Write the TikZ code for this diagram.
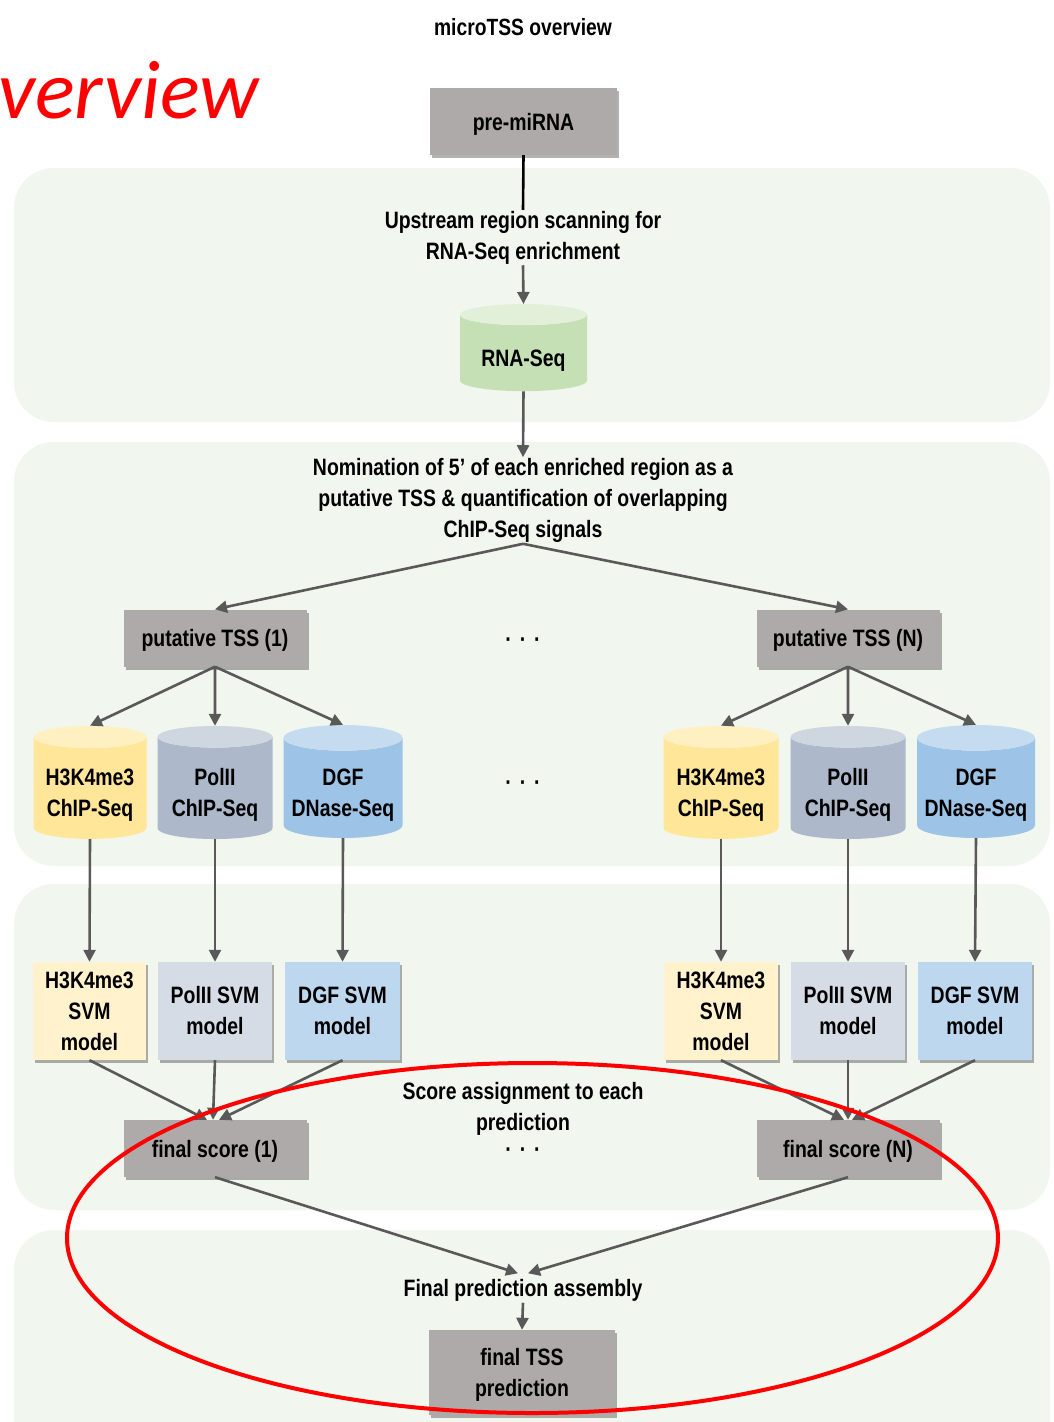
\documentclass[tikz,border=0pt]{standalone}
\usepackage{fontspec}
\setmainfont{Liberation Sans}[FakeStretch=0.82]
\newfontfamily\handfont{Carlito}
\usetikzlibrary{shapes.geometric,shadows,arrows.meta}

\definecolor{panelgreen}{HTML}{F1F6EE}
\definecolor{boxgray}{HTML}{AEAAAA}
\definecolor{linegray}{HTML}{595959}
\definecolor{rnabody}{HTML}{C5E0B4}
\definecolor{rnaend}{HTML}{E2F0D9}
\definecolor{h3body}{HTML}{FFE699}
\definecolor{h3end}{HTML}{FFF0C2}
\definecolor{polbody}{HTML}{ADB9CA}
\definecolor{polend}{HTML}{CED6E0}
\definecolor{dgfbody}{HTML}{9DC3E6}
\definecolor{dgfend}{HTML}{C5DCF0}
\definecolor{h3svm}{HTML}{FFF2CC}
\definecolor{polsvm}{HTML}{D6DCE5}
\definecolor{dgfsvm}{HTML}{BDD7EE}

% lowered centred stack of lines, keeping the outer box size
\newcommand\sinktext[2]{\raisebox{-#1}[\height][\depth]{\begin{tabular}{@{}c@{}}#2\end{tabular}}}

\tikzset{
  txt/.style={font=\bfseries\fontsize{23.7}{31}\selectfont, align=center, inner sep=1pt},
  freetxt/.style={txt, yshift=-2.5pt},
  panel/.style={fill=panelgreen, draw=none, rounded corners=40pt},
  shade/.style={drop shadow={shadow xshift=2pt, shadow yshift=-3pt, fill=black, opacity=0.3}},
  graybox/.style={txt, rectangle, fill=boxgray, shade},
  svmbox/.style={txt, rectangle, shade, minimum height=98pt},
  datacyl/.style={txt, cylinder, shape border rotate=90, aspect=0.25,
    cylinder uses custom fill, minimum width=#1, minimum height=113pt, inner sep=0pt},
  arr/.style={draw=linegray, line width=2.6pt, -{Triangle[length=12pt,width=12pt]}},
  plain/.style={draw=black, line width=2.6pt},
}

\begin{document}
\begin{tikzpicture}[x=1pt, y=-1pt]
\useasboundingbox (0,0) rectangle (1054,1422);
\fill[white] (0,0) rectangle (1054,1422);

% background bands
\fill[panel] (14,168) rectangle (1050,422);
\fill[panel] (14,442) rectangle (1050,866);
\fill[panel] (14,884) rectangle (1050,1210);
\fill[panel] (14,1230) rectangle (1050,1470);

% header
\node[txt, font=\bfseries\fontsize{23.5}{28}\selectfont] (title) at (523,27) {microTSS overview};
\node[anchor=base west, inner sep=0pt, text=red, font=\handfont\itshape\fontsize{83}{90}\selectfont] (ov) at (-2,118) {verview};

% top of the pipeline
\node[graybox, minimum width=187pt, minimum height=67pt] (pre) at (523.5,121.5) {\sinktext{2.5pt}{pre-miRNA}};
\node[freetxt] (scan) at (523,235) {Upstream region scanning for\\RNA-Seq enrichment};
\node[datacyl=127pt, minimum height=87pt, cylinder body fill=rnabody, cylinder end fill=rnaend] (rna) at (523.5,353) {\sinktext{7pt}{RNA-Seq}};
\node[freetxt] (nom) at (523,498) {Nomination of 5’ of each enriched region as a\\putative TSS \& quantification of overlapping\\ChIP-Seq signals};

\draw[plain] (pre.south) -- (scan.north);
\draw[arr] (scan.south) -- (rna.north);
\draw[arr] (rna.south) -- (nom.north);

% putative TSS
\node[graybox, minimum width=183pt, minimum height=57pt] (tssA) at (215,638) {\sinktext{2pt}{putative TSS (1)}};
\node[graybox, minimum width=183pt, minimum height=57pt] (tssN) at (848,638) {\sinktext{2pt}{putative TSS (N)}};
\node[txt] (dotsA) at (523,643) {·\,\,·\,\,·};
\draw[arr] (nom.south) -- (tssA.north);
\draw[arr] (nom.south) -- (tssN.north);

% data tracks
\node[datacyl=113pt, cylinder body fill=h3body, cylinder end fill=h3end] (hA) at (90,788) {\sinktext{7pt}{H3K4me3\\ChIP-Seq}};
\node[datacyl=115pt, cylinder body fill=polbody, cylinder end fill=polend] (pA) at (215,788) {\sinktext{7pt}{PolII\\ChIP-Seq}};
\node[datacyl=119pt, cylinder body fill=dgfbody, cylinder end fill=dgfend] (dA) at (343,788) {\sinktext{7pt}{DGF\\DNase-Seq}};
\node[datacyl=115pt, cylinder body fill=h3body, cylinder end fill=h3end] (hN) at (721,788) {\sinktext{7pt}{H3K4me3\\ChIP-Seq}};
\node[datacyl=115pt, cylinder body fill=polbody, cylinder end fill=polend] (pN) at (848,788) {\sinktext{7pt}{PolII\\ChIP-Seq}};
\node[datacyl=118pt, cylinder body fill=dgfbody, cylinder end fill=dgfend] (dN) at (976,788) {\sinktext{7pt}{DGF\\DNase-Seq}};
\node[txt] (dotsB) at (523,786) {·\,\,·\,\,·};

\foreach \t in {hA,pA,dA} \draw[arr] (tssA.south) -- (\t.north);
\foreach \t in {hN,pN,dN} \draw[arr] (tssN.south) -- (\t.north);

% SVM models
\node[svmbox, fill=h3svm, minimum width=113pt] (shA) at (89.5,1011) {H3K4me3\\SVM\\model};
\node[svmbox, fill=polsvm, minimum width=114pt] (spA) at (215,1011) {PolII SVM\\model};
\node[svmbox, fill=dgfsvm, minimum width=115pt] (sdA) at (342.5,1011) {DGF SVM\\model};
\node[svmbox, fill=h3svm, minimum width=114pt] (shN) at (721,1011) {H3K4me3\\SVM\\model};
\node[svmbox, fill=polsvm, minimum width=114pt] (spN) at (848,1011) {PolII SVM\\model};
\node[svmbox, fill=dgfsvm, minimum width=114pt] (sdN) at (975,1011) {DGF SVM\\model};

\draw[arr] (hA.south) -- (shA.north);
\draw[arr] (pA.south) -- (spA.north);
\draw[arr] (dA.south) -- (sdA.north);
\draw[arr] (hN.south) -- (shN.north);
\draw[arr] (pN.south) -- (spN.north);
\draw[arr] (dN.south) -- (sdN.north);

% scoring
\node[graybox, minimum width=183pt, minimum height=57pt] (fsA) at (215,1148.5) {\sinktext{3pt}{final score (1)}};
\node[graybox, minimum width=183pt, minimum height=57pt] (fsN) at (848,1148.5) {\sinktext{3pt}{final score (N)}};
\node[freetxt] (score) at (523,1106) {Score assignment to each\\prediction};
\node[txt] (dotsC) at (523,1153) {·\,\,·\,\,·};

\draw[arr] (shA.south) -- ([xshift=-8pt]fsA.north);
\draw[arr] (spA.south) -- ([xshift=-2pt]fsA.north);
\draw[arr] (sdA.south) -- ([xshift=4pt]fsA.north);
\draw[arr] (shN.south) -- ([xshift=-4pt]fsN.north);
\draw[arr] (spN.south) -- ([xshift=0pt]fsN.north);
\draw[arr] (sdN.south) -- ([xshift=4pt]fsN.north);

% assembly
\node[freetxt] (asm) at (523,1288) {Final prediction assembly};
\node[graybox, minimum width=186pt, minimum height=85pt] (final) at (522,1372.5) {\sinktext{2pt}{final TSS\\prediction}};
\draw[arr] (fsA.south) -- ([xshift=-5pt,yshift=5pt]asm.north);
\draw[arr] (fsN.south) -- ([xshift=5pt,yshift=5pt]asm.north);
\draw[arr] (asm.south) -- (final.north);

% hand-drawn highlight
\draw[red, line width=4pt] (532.5,1238) ellipse [x radius=465.5pt, y radius=175pt];
\end{tikzpicture}
\end{document}
